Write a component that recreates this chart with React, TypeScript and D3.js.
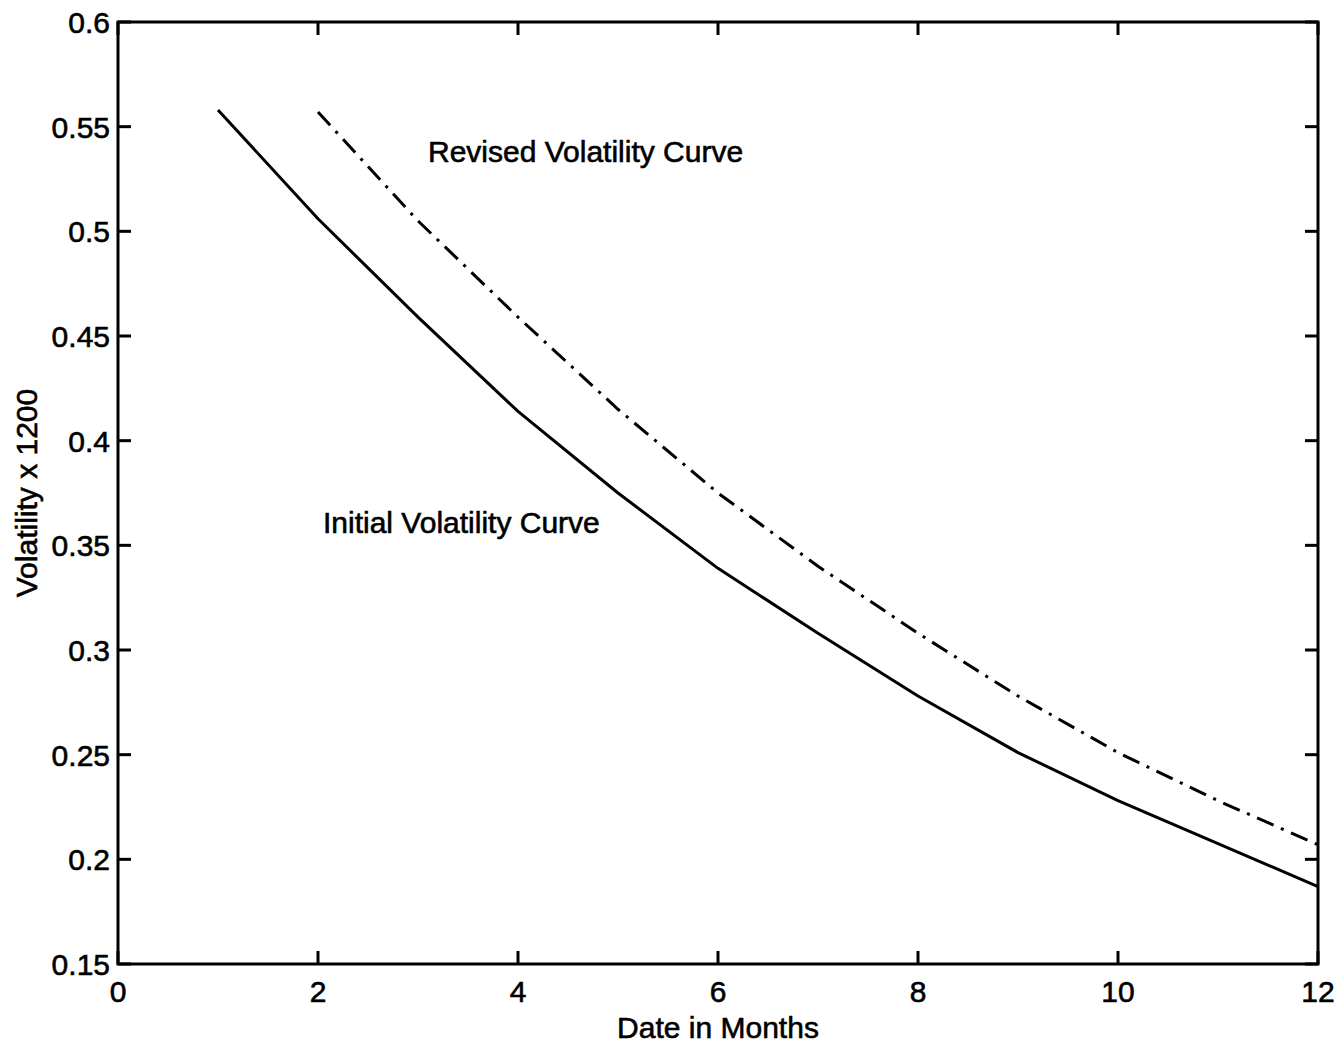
import React from 'react';
import * as d3 from 'd3';

const initialMonths = [1, 2, 3, 4, 5, 6, 7, 8, 9, 10, 11, 12];
const initialVol = [0.558, 0.506, 0.459, 0.414, 0.375, 0.339, 0.308, 0.278, 0.251, 0.228, 0.2075, 0.187];
const revisedMonths = [2, 3, 4, 5, 6, 7, 8, 9, 10, 11, 12];
const revisedVol = [0.557, 0.505, 0.459, 0.415, 0.375, 0.34, 0.308, 0.278, 0.251, 0.228, 0.207];
const xTicks = [0, 2, 4, 6, 8, 10, 12];
const yTicks = [0.15, 0.2, 0.25, 0.3, 0.35, 0.4, 0.45, 0.5, 0.55, 0.6];
const yTickLabels = ['0.15', '0.2', '0.25', '0.3', '0.35', '0.4', '0.45', '0.5', '0.55', '0.6'];
const xLabel = 'Date in Months';
const yLabel = 'Volatility x 1200';
const revisedText = 'Revised Volatility Curve';
const initialText = 'Initial Volatility Curve';

const W = 1342;
const H = 1045;
const L = 118, R = 1318, T = 22, B = 964;
const FONT = "'Liberation Sans', Arial, Helvetica, sans-serif";
const FS = 30;

export default function App() {
  const x = d3.scaleLinear().domain([0, 12]).range([L, R]);
  const y = d3.scaleLinear().domain([0.15, 0.6]).range([B, T]);
  const line = d3.line<[number, number]>().x(d => x(d[0])).y(d => y(d[1])).curve(d3.curveLinear);
  const initPts = initialMonths.map((m, i) => [m, initialVol[i]] as [number, number]);
  const revPts = revisedMonths.map((m, i) => [m, revisedVol[i]] as [number, number]);
  const tickLen = 13;
  const textStyle = { stroke: '#000', strokeWidth: 0.6 } as const;

  return (
    <svg width={W} height={H} style={{ position: 'absolute', left: 0, top: 0, background: '#fff' }}
      fontFamily={FONT}>
      <rect x={0} y={0} width={W} height={H} fill="#fff" />
      {/* curves */}
      <path d={line(initPts) || ''} fill="none" stroke="#000" strokeWidth={3} strokeLinejoin="round" />
      <path d={line(revPts) || ''} fill="none" stroke="#000" strokeWidth={3}
        strokeDasharray="18,8,3,8" />
      {/* frame */}
      <rect x={L} y={T} width={R - L} height={B - T} fill="none" stroke="#000" strokeWidth={3} />
      {/* x ticks */}
      {xTicks.map(t => (
        <g key={'x' + t}>
          <line x1={x(t)} x2={x(t)} y1={B} y2={B - tickLen} stroke="#000" strokeWidth={3} />
          <line x1={x(t)} x2={x(t)} y1={T} y2={T + tickLen} stroke="#000" strokeWidth={3} />
          <text x={x(t)} y={1002} textAnchor="middle" fontSize={FS} {...textStyle}>{t}</text>
        </g>
      ))}
      {/* y ticks */}
      {yTicks.map((t, i) => (
        <g key={'y' + t}>
          <line x1={L} x2={L + tickLen} y1={y(t)} y2={y(t)} stroke="#000" strokeWidth={3} />
          <line x1={R} x2={R - tickLen} y1={y(t)} y2={y(t)} stroke="#000" strokeWidth={3} />
          <text x={L - 8} y={y(t) + 11} textAnchor="end" fontSize={FS} {...textStyle}>{yTickLabels[i]}</text>
        </g>
      ))}
      {/* axis labels */}
      <text x={(L + R) / 2} y={1038} textAnchor="middle" fontSize={FS} {...textStyle}>{xLabel}</text>
      <text transform={`translate(37,${(T + B) / 2}) rotate(-90)`} textAnchor="middle" fontSize={FS} {...textStyle}>{yLabel}</text>
      {/* annotations */}
      <text x={x(3.1)} y={y(0.533)} fontSize={FS} {...textStyle}>{revisedText}</text>
      <text x={x(2.05)} y={y(0.356)} fontSize={FS} {...textStyle}>{initialText}</text>
    </svg>
  );
}
